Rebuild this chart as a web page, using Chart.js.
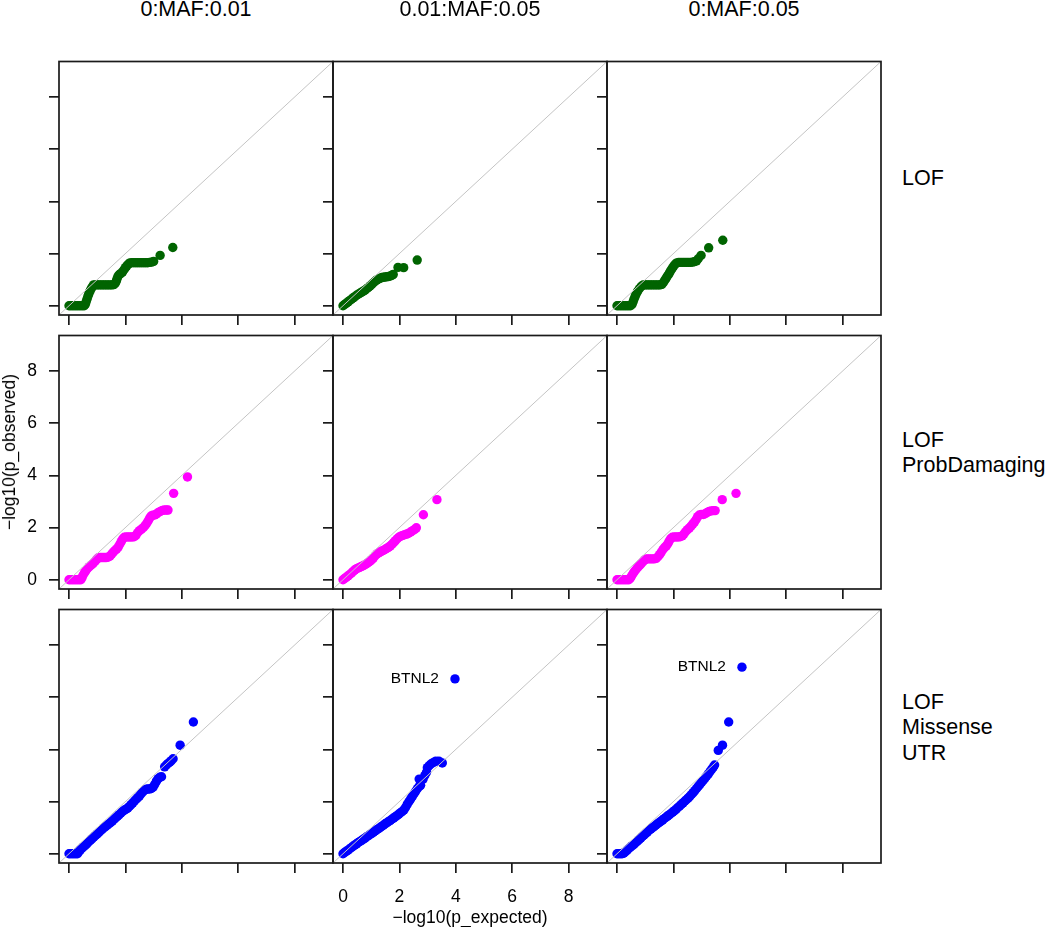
<!DOCTYPE html>
<html>
<head>
<meta charset="utf-8">
<script src="https://cdn.jsdelivr.net/npm/chart.js@4.4.0/dist/chart.umd.min.js"></script>
<style>
  body { margin: 0; background: #fff; width: 1050px; height: 927px; position: relative; overflow: hidden;
         font-family: "Liberation Sans", Arial, Helvetica, sans-serif; color: #000; }
  canvas { position: absolute; }
  .lbl { position: absolute; white-space: nowrap; }
  .strip { font-size: 21.5px; line-height: 25.5px; transform: translateX(-50%); }
  .rowlbl { font-size: 21.5px; line-height: 25.5px; }
  .title { font-size: 17.5px; line-height: 20px; }
</style>
</head>
<body>
<script>
'use strict';

// ***** DATA *****
const mafBins = ['0:MAF:0.01', '0.01:MAF:0.05', '0:MAF:0.05'];
const variantSets = [['LOF'], ['LOF', 'ProbDamaging'], ['LOF', 'Missense', 'UTR']];
const setColors = ['#006400', '#ff00ff', '#0000ff'];
const tickValues = [0, 2, 4, 6, 8];
const axisRange = [-0.355, 9.36];
const xTitle = '\u2212log10(p_expected)';
const yTitle = '\u2212log10(p_observed)';

// [expected, observed] pairs
const lof_0_001 = [[0,0],[0.06,0],[0.12,0],[0.18,0],[0.24,0],[0.3,0],[0.36,0],[0.42,0],[0.48,0],[0.54,0],
  [0.58,0.06],[0.61,0.16],[0.64,0.26],[0.67,0.36],[0.7,0.45],[0.74,0.55],[0.78,0.64],[0.82,0.72],[0.87,0.8],
  [0.93,0.8],[0.99,0.8],[1.05,0.8],[1.11,0.8],[1.17,0.8],[1.23,0.8],[1.29,0.8],[1.35,0.8],[1.41,0.8],[1.47,0.8],
  [1.53,0.8],[1.59,0.81],[1.64,0.86],[1.68,0.95],[1.71,1.05],[1.74,1.14],[1.79,1.2],[1.84,1.24],[1.9,1.3],
  [1.95,1.38],[2.0,1.46],[2.05,1.53],[2.1,1.59],[2.16,1.64],[2.23,1.65],[2.3,1.65],[2.37,1.65],[2.44,1.65],
  [2.51,1.65],[2.58,1.65],[2.65,1.65],[2.72,1.65],[2.79,1.65],[2.86,1.66],[2.93,1.67],[3.0,1.7],[3.23,1.93],[3.68,2.23]];
const lof_001_005 = [[0,0],[0.06,0.05],[0.12,0.1],[0.18,0.15],[0.24,0.2],[0.3,0.25],[0.36,0.3],[0.42,0.35],
  [0.48,0.4],[0.54,0.44],[0.6,0.48],[0.66,0.52],[0.72,0.56],[0.78,0.6],[0.84,0.65],[0.9,0.7],[0.96,0.76],
  [1.02,0.82],[1.08,0.88],[1.14,0.94],[1.2,0.99],[1.26,1.03],[1.32,1.06],[1.38,1.08],[1.44,1.09],[1.5,1.1],
  [1.56,1.11],[1.62,1.12],[1.68,1.14],[1.74,1.17],[1.78,1.2],[1.95,1.47],[2.15,1.46],[2.63,1.75]];
const lof_0_005 = [[0,0],[0.06,0],[0.12,0],[0.18,0],[0.24,0],[0.3,0],[0.36,0],[0.42,0],[0.48,0],
  [0.53,0.05],[0.57,0.15],[0.6,0.25],[0.64,0.35],[0.68,0.45],[0.73,0.55],[0.79,0.65],[0.86,0.74],[0.93,0.8],
  [0.99,0.8],[1.05,0.8],[1.11,0.8],[1.17,0.8],[1.23,0.8],[1.29,0.8],[1.35,0.8],[1.41,0.8],[1.47,0.8],[1.53,0.8],
  [1.59,0.82],[1.64,0.88],[1.69,0.97],[1.74,1.05],[1.78,1.13],[1.83,1.2],[1.87,1.28],[1.91,1.36],[1.96,1.44],
  [2.01,1.52],[2.06,1.59],[2.12,1.64],[2.19,1.66],[2.26,1.66],[2.33,1.66],[2.4,1.66],[2.47,1.66],[2.54,1.66],
  [2.61,1.66],[2.68,1.67],[2.75,1.69],[2.82,1.72],[2.88,1.8],[2.98,1.93],[3.25,2.22],[3.75,2.51]];

const pd_0_001 = [[0,0],[0.06,0],[0.12,0],[0.18,0],[0.24,0],[0.3,0],[0.36,0],[0.42,0],[0.46,0.08],[0.5,0.18],
  [0.55,0.27],[0.6,0.35],[0.66,0.44],[0.72,0.5],[0.78,0.56],[0.85,0.62],[0.92,0.7],[0.98,0.78],[1.04,0.84],
  [1.1,0.85],[1.17,0.85],[1.24,0.85],[1.31,0.85],[1.38,0.86],[1.45,0.9],[1.51,0.98],[1.57,1.06],[1.63,1.12],
  [1.69,1.18],[1.75,1.26],[1.8,1.36],[1.85,1.46],[1.9,1.56],[1.96,1.63],[2.03,1.64],[2.1,1.64],[2.17,1.64],
  [2.24,1.64],[2.31,1.65],[2.37,1.7],[2.43,1.8],[2.5,1.88],[2.57,1.94],[2.64,2.0],[2.7,2.08],[2.76,2.17],
  [2.81,2.26],[2.86,2.36],[2.91,2.44],[2.97,2.47],[3.04,2.48],[3.1,2.52],[3.17,2.58],[3.24,2.62],[3.31,2.66],
  [3.38,2.67],[3.45,2.67],[3.51,2.67],[3.71,3.31],[4.2,3.94]];
const pd_001_005 = [[0,0],[0.06,0.05],[0.12,0.1],[0.18,0.15],[0.24,0.2],[0.3,0.26],[0.36,0.32],[0.42,0.38],
  [0.48,0.42],[0.54,0.45],[0.6,0.48],[0.66,0.51],[0.72,0.54],[0.78,0.58],[0.84,0.62],[0.9,0.66],[0.96,0.71],
  [1.02,0.77],[1.08,0.84],[1.14,0.92],[1.2,0.99],[1.26,1.03],[1.32,1.07],[1.38,1.1],[1.44,1.13],[1.5,1.17],
  [1.56,1.21],[1.62,1.25],[1.68,1.3],[1.74,1.36],[1.8,1.43],[1.86,1.5],[1.92,1.57],[1.98,1.63],[2.05,1.67],
  [2.12,1.7],[2.19,1.73],[2.26,1.75],[2.33,1.78],[2.4,1.83],[2.47,1.88],[2.54,1.93],[2.6,1.99],[2.85,2.49],[3.33,3.07]];
const pd_0_005 = [[0,0],[0.06,0],[0.12,0],[0.18,0],[0.24,0],[0.3,0],[0.36,0],[0.42,0],[0.47,0.06],[0.52,0.15],
  [0.57,0.24],[0.62,0.32],[0.68,0.4],[0.74,0.48],[0.8,0.55],[0.86,0.62],[0.92,0.69],[0.98,0.76],[1.04,0.8],
  [1.11,0.8],[1.18,0.8],[1.25,0.8],[1.32,0.8],[1.39,0.82],[1.45,0.88],[1.51,0.96],[1.57,1.06],[1.63,1.16],
  [1.69,1.24],[1.75,1.3],[1.8,1.38],[1.85,1.48],[1.9,1.57],[1.96,1.63],[2.03,1.64],[2.1,1.64],[2.17,1.64],
  [2.24,1.65],[2.31,1.68],[2.37,1.75],[2.43,1.84],[2.5,1.92],[2.57,1.99],[2.63,2.06],[2.69,2.14],[2.75,2.22],
  [2.81,2.32],[2.86,2.42],[2.92,2.48],[2.99,2.5],[3.06,2.5],[3.13,2.53],[3.2,2.58],[3.27,2.62],[3.34,2.64],
  [3.41,2.65],[3.48,2.65],[3.73,3.07],[4.22,3.31]];

const lmu_0_001 = [[0,0],[0.06,0],[0.12,0],[0.18,0],[0.24,0],[0.3,0],[0.35,0.08],[0.4,0.15],[0.46,0.21],
  [0.52,0.27],[0.58,0.33],[0.64,0.39],[0.7,0.46],[0.76,0.52],[0.82,0.58],[0.88,0.64],[0.94,0.7],[1.0,0.76],
  [1.06,0.82],[1.12,0.88],[1.18,0.94],[1.24,1.0],[1.3,1.05],[1.36,1.1],[1.42,1.15],[1.48,1.2],[1.54,1.26],
  [1.6,1.32],[1.66,1.38],[1.72,1.44],[1.78,1.5],[1.84,1.56],[1.9,1.62],[1.96,1.67],[2.02,1.71],[2.08,1.75],
  [2.14,1.81],[2.2,1.88],[2.26,1.95],[2.32,2.02],[2.38,2.09],[2.44,2.15],[2.5,2.22],[2.56,2.3],[2.62,2.38],
  [2.68,2.44],[2.74,2.47],[2.8,2.48],[2.86,2.48],[2.92,2.5],[2.98,2.55],[3.04,2.66],[3.1,2.78],[3.16,2.88],
  [3.22,2.93],[3.28,2.95],[3.39,3.33],[3.45,3.4],[3.51,3.46],[3.57,3.51],[3.63,3.57],[3.69,3.64],[3.94,4.16],[4.41,5.05]];
const lmu_001_005 = [[0,0],[0.06,0.05],[0.12,0.1],[0.18,0.14],[0.24,0.19],[0.3,0.24],[0.36,0.29],[0.42,0.34],
  [0.48,0.38],[0.54,0.43],[0.6,0.47],[0.66,0.51],[0.72,0.56],[0.78,0.6],[0.84,0.65],[0.9,0.69],[0.96,0.74],
  [1.02,0.78],[1.08,0.83],[1.14,0.87],[1.2,0.92],[1.26,0.96],[1.32,1.01],[1.38,1.06],[1.44,1.1],[1.5,1.15],
  [1.56,1.19],[1.62,1.24],[1.68,1.28],[1.74,1.33],[1.8,1.37],[1.86,1.42],[1.92,1.47],[1.98,1.52],[2.04,1.57],
  [2.1,1.62],[2.16,1.68],[2.22,1.78],[2.28,1.9],[2.34,2.0],[2.4,2.1],[2.46,2.2],[2.52,2.3],[2.58,2.4],[2.64,2.5],
  [2.7,2.58],[2.75,2.62],[2.7,2.86],[2.84,2.86],[2.9,3.0],[2.96,3.12],[2.99,3.3],[3.06,3.38],[3.13,3.45],
  [3.21,3.5],[3.29,3.55],[3.4,3.55],[3.52,3.48],[3.97,6.7]];
const lmu_0_005 = [[0,0],[0.06,0],[0.12,0],[0.18,0],[0.24,0.02],[0.3,0.08],[0.36,0.14],[0.42,0.2],[0.48,0.26],
  [0.54,0.31],[0.6,0.36],[0.66,0.42],[0.72,0.48],[0.78,0.54],[0.84,0.6],[0.9,0.66],[0.96,0.72],[1.02,0.78],
  [1.08,0.84],[1.14,0.9],[1.2,0.95],[1.26,1.0],[1.32,1.05],[1.38,1.1],[1.44,1.15],[1.5,1.2],[1.56,1.25],
  [1.62,1.3],[1.68,1.35],[1.74,1.4],[1.8,1.45],[1.86,1.5],[1.92,1.55],[1.98,1.6],[2.04,1.65],[2.1,1.71],
  [2.16,1.77],[2.22,1.83],[2.28,1.89],[2.34,1.95],[2.4,2.01],[2.46,2.07],[2.52,2.13],[2.58,2.2],[2.64,2.27],
  [2.7,2.34],[2.76,2.42],[2.82,2.5],[2.88,2.58],[2.94,2.66],[3.0,2.74],[3.06,2.82],[3.12,2.9],[3.18,2.98],
  [3.24,3.06],[3.3,3.15],[3.36,3.24],[3.42,3.33],[3.46,3.4],[3.59,3.96],[3.74,4.16],[3.96,5.05],[4.43,7.15]];

const panelData = [
  [lof_0_001, lof_001_005, lof_0_005],
  [pd_0_001, pd_001_005, pd_0_005],
  [lmu_0_001, lmu_001_005, lmu_0_005]
];

// the top point of these panels gets a gene label
const hitLabels = [
  { row: 2, col: 1, gene: 'BTNL2' },
  { row: 2, col: 2, gene: 'BTNL2' }
];

// ***** LAYOUT *****
const FONT = '"Liberation Sans", Arial, Helvetica, sans-serif';
const panelLeft = 59;
const panelTop = 41;
const panelSize = 274;
const axisBox = 50;
const edge = 2;

// ***** PLUGINS *****
const frame = {
  id: 'frame',
  afterDraw(chart) {
    let a = chart.chartArea;
    let ctx = chart.ctx;
    ctx.save();
    ctx.strokeStyle = '#1a1a1a';
    ctx.lineWidth = 1.7;
    ctx.strokeRect(a.left, a.top, a.right - a.left, a.bottom - a.top);
    ctx.restore();
  }
};

const geneText = {
  id: 'geneText',
  afterDatasetsDraw(chart, args, opts) {
    if (!opts.gene) return;
    let pts = chart.data.datasets[1].data;
    let top = pts.reduce((m, p) => (p.y > m.y ? p : m), pts[0]);
    let ctx = chart.ctx;
    ctx.save();
    ctx.font = '15.5px ' + FONT;
    ctx.fillStyle = '#000';
    ctx.textAlign = 'right';
    ctx.textBaseline = 'middle';
    ctx.fillText(opts.gene, chart.scales.x.getPixelForValue(top.x) - 16, chart.scales.y.getPixelForValue(top.y));
    ctx.restore();
  }
};

// ***** HELPERS *****
function axis(isX, showLabels) {
  return {
    type: 'linear',
    min: axisRange[0],
    max: axisRange[1],
    afterBuildTicks: s => { s.ticks = tickValues.map(v => ({ value: v })); },
    afterFit: s => { if (isX) s.height = axisBox; else s.width = axisBox; },
    grid: { drawOnChartArea: false, drawTicks: true, tickLength: 10, color: '#1a1a1a', lineWidth: 1.7 },
    border: { display: false },
    ticks: {
      autoSkip: false,
      maxRotation: 0,
      padding: isX ? 14 : 12,
      color: '#000',
      font: { family: FONT, size: 17.5 },
      callback: v => (showLabels ? String(v) : '')
    }
  };
}

function addText(cls, html, left, top, extra) {
  let d = document.createElement('div');
  d.className = 'lbl ' + cls;
  d.innerHTML = html;
  d.style.left = left + 'px';
  d.style.top = top + 'px';
  if (extra) d.style.transform = extra;
  document.body.appendChild(d);
}

function renderPanel(row, col) {
  let canvas = document.createElement('canvas');
  canvas.width = axisBox + panelSize + edge;
  canvas.height = edge + panelSize + axisBox;
  canvas.style.left = (panelLeft + col * panelSize - axisBox) + 'px';
  canvas.style.top = (panelTop + row * panelSize - edge) + 'px';
  document.body.appendChild(canvas);

  let hit = hitLabels.find(h => h.row === row && h.col === col);

  new Chart(canvas.getContext('2d'), {
    type: 'scatter',
    data: {
      datasets: [{
        type: 'line',
        data: [{ x: axisRange[0], y: axisRange[0] }, { x: axisRange[1], y: axisRange[1] }],
        borderColor: '#c4c4c4',
        borderWidth: 1,
        pointRadius: 0,
        order: 0
      }, {
        data: panelData[row][col].map(p => ({ x: p[0], y: p[1] })),
        backgroundColor: setColors[row],
        borderWidth: 0,
        pointRadius: 4.7,
        order: 1
      }]
    },
    options: {
      responsive: false,
      animation: false,
      events: [],
      layout: { autoPadding: false, padding: { top: edge, right: edge, left: 0, bottom: 0 } },
      scales: {
        x: axis(true, row === 2 && col === 1),
        y: axis(false, row === 1 && col === 0)
      },
      plugins: {
        legend: { display: false },
        tooltip: { enabled: false },
        geneText: { gene: hit ? hit.gene : null }
      }
    },
    plugins: [frame, geneText]
  });
}

// ***** RENDER *****
for (let r = 0; r < 3; r++) {
  for (let c = 0; c < 3; c++) {
    renderPanel(r, c);
  }
}

mafBins.forEach((name, c) => {
  addText('strip', name, panelLeft + c * panelSize + panelSize / 2, -3);
});

let rowTops = [165.9, 427.9, 689.5];
variantSets.forEach((lines, r) => {
  addText('rowlbl', lines.join('<br>'), 902, rowTops[r]);
});

addText('title', xTitle, panelLeft + panelSize * 1.5, 916.5, 'translate(-50%, -50%)');
addText('title', yTitle, 8.5, panelTop + panelSize * 1.5, 'translate(-50%, -50%) rotate(-90deg)');
</script>
</body>
</html>
